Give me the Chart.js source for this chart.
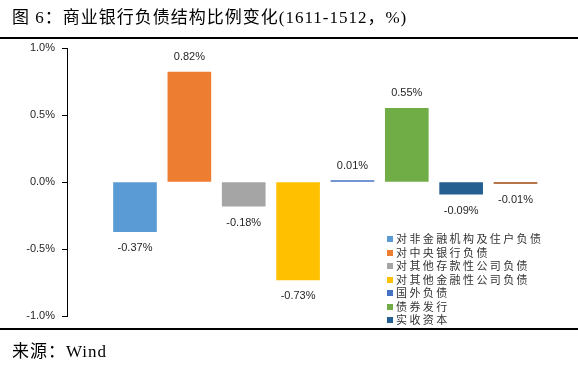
<!DOCTYPE html>
<html>
<head>
<meta charset="utf-8">
<script src="https://cdn.jsdelivr.net/npm/chart.js@4.4.1/dist/chart.umd.min.js"></script>
<style>
  html, body { margin: 0; padding: 0; background: #fff; }
  body { width: 578px; height: 369px; position: relative; overflow: hidden; }
  #grafico { position: absolute; left: 0; top: 0; }
  #titulo, #fuente {
    position: absolute; left: 12px; color: #000; white-space: nowrap;
    font-family: "Liberation Serif", "Noto Sans CJK SC", serif;
    font-size: 17px; line-height: 20px; letter-spacing: 1px;
  }
  #titulo { top: 8px; }
  #fuente { top: 342px; }
  .linea { position: absolute; left: 0; width: 578px; height: 2px; background: #000; }
  #leyenda {
    position: absolute; left: 387px; top: 232px; margin: 0; padding: 0; list-style: none;
    font-family: "Noto Sans CJK SC", sans-serif; font-size: 11px; color: #333;
    letter-spacing: 2.4px;
  }
  #leyenda li { height: 13.5px; line-height: 13.5px; white-space: nowrap; }
  #leyenda span.caja { display: inline-block; width: 6px; height: 6px; margin-right: 3px; vertical-align: 1px; }
</style>
</head>
<body>
<canvas id="grafico" width="578" height="369"></canvas>
<div id="titulo">图 6：商业银行负债结构比例变化(1611-1512，%)</div>
<div class="linea" style="top:37px"></div>
<ul id="leyenda"></ul>
<div class="linea" style="top:328px"></div>
<div id="fuente">来源：Wind</div>
<script>
// Datos (variación en puntos porcentuales)
const series = ['对非金融机构及住户负债', '对中央银行负债', '对其他存款性公司负债', '对其他金融性公司负债',
  '国外负债', '债券发行', '实收资本', '其他负债'];
const valores = [-0.37, 0.82, -0.18, -0.73, 0.01, 0.55, -0.09, -0.01];
const colores = ['#5B9BD5', '#ED7D31', '#A5A5A5', '#FFC000', '#4472C4', '#70AD47', '#255E91', '#9E480E'];
const ticksY = [-1.0, -0.5, 0.0, 0.5, 1.0];

// la leyenda del original solo muestra las 7 primeras series
const leyenda = document.getElementById('leyenda');
series.slice(0, 7).forEach((s, i) => {
  const li = document.createElement('li');
  li.innerHTML = '<span class="caja" style="background:' + colores[i] + '"></span>' + s;
  leyenda.appendChild(li);
});

// Etiquetas de valor encima / debajo de cada barra
const etiquetas = {
  id: 'etiquetas',
  afterDatasetsDraw(chart) {
    const ctx = chart.ctx;
    ctx.save();
    ctx.font = '11px "Liberation Sans", Arial, sans-serif';
    ctx.fillStyle = '#262626';
    ctx.textAlign = 'center';
    ctx.textBaseline = 'middle';
    chart.data.datasets.forEach((ds, i) => {
      const barra = chart.getDatasetMeta(i).data[0];
      const v = valores[i];
      const y = v >= 0 ? barra.y - 15 : barra.y + 16.5;
      ctx.fillText(v.toFixed(2) + '%', barra.x, y);
    });
    ctx.restore();
  }
};

new Chart(document.getElementById('grafico'), {
  type: 'bar',
  data: {
    datasets: series.map((s, i) => ({
      label: s,
      data: [{ x: i + 1, y: valores[i] }],
      backgroundColor: colores[i],
      barThickness: 43,
      grouped: false
    }))
  },
  options: {
    responsive: false,
    animation: false,
    devicePixelRatio: 1,
    layout: { padding: { top: 48, bottom: 53, left: 0, right: 2 } },
    plugins: { legend: { display: false }, tooltip: { enabled: false } },
    scales: {
      x: { type: 'linear', min: -0.251, max: 9.113, offset: false, grid: { offset: false }, display: false },
      y: {
        min: ticksY[0],
        max: ticksY[ticksY.length - 1],
        afterFit: (escala) => { escala.width = 67; },
        afterBuildTicks: (escala) => { escala.ticks = ticksY.map(v => ({ value: v })); },
        border: { display: true, color: '#000', width: 1 },
        grid: { drawOnChartArea: false, drawTicks: true, tickLength: 5, color: '#000' },
        ticks: {
          padding: 7,
          color: '#262626',
          font: { family: '"Liberation Sans", Arial, sans-serif', size: 11 },
          callback: (v) => v.toFixed(1) + '%'
        }
      }
    }
  },
  plugins: [etiquetas]
});
</script>
</body>
</html>
